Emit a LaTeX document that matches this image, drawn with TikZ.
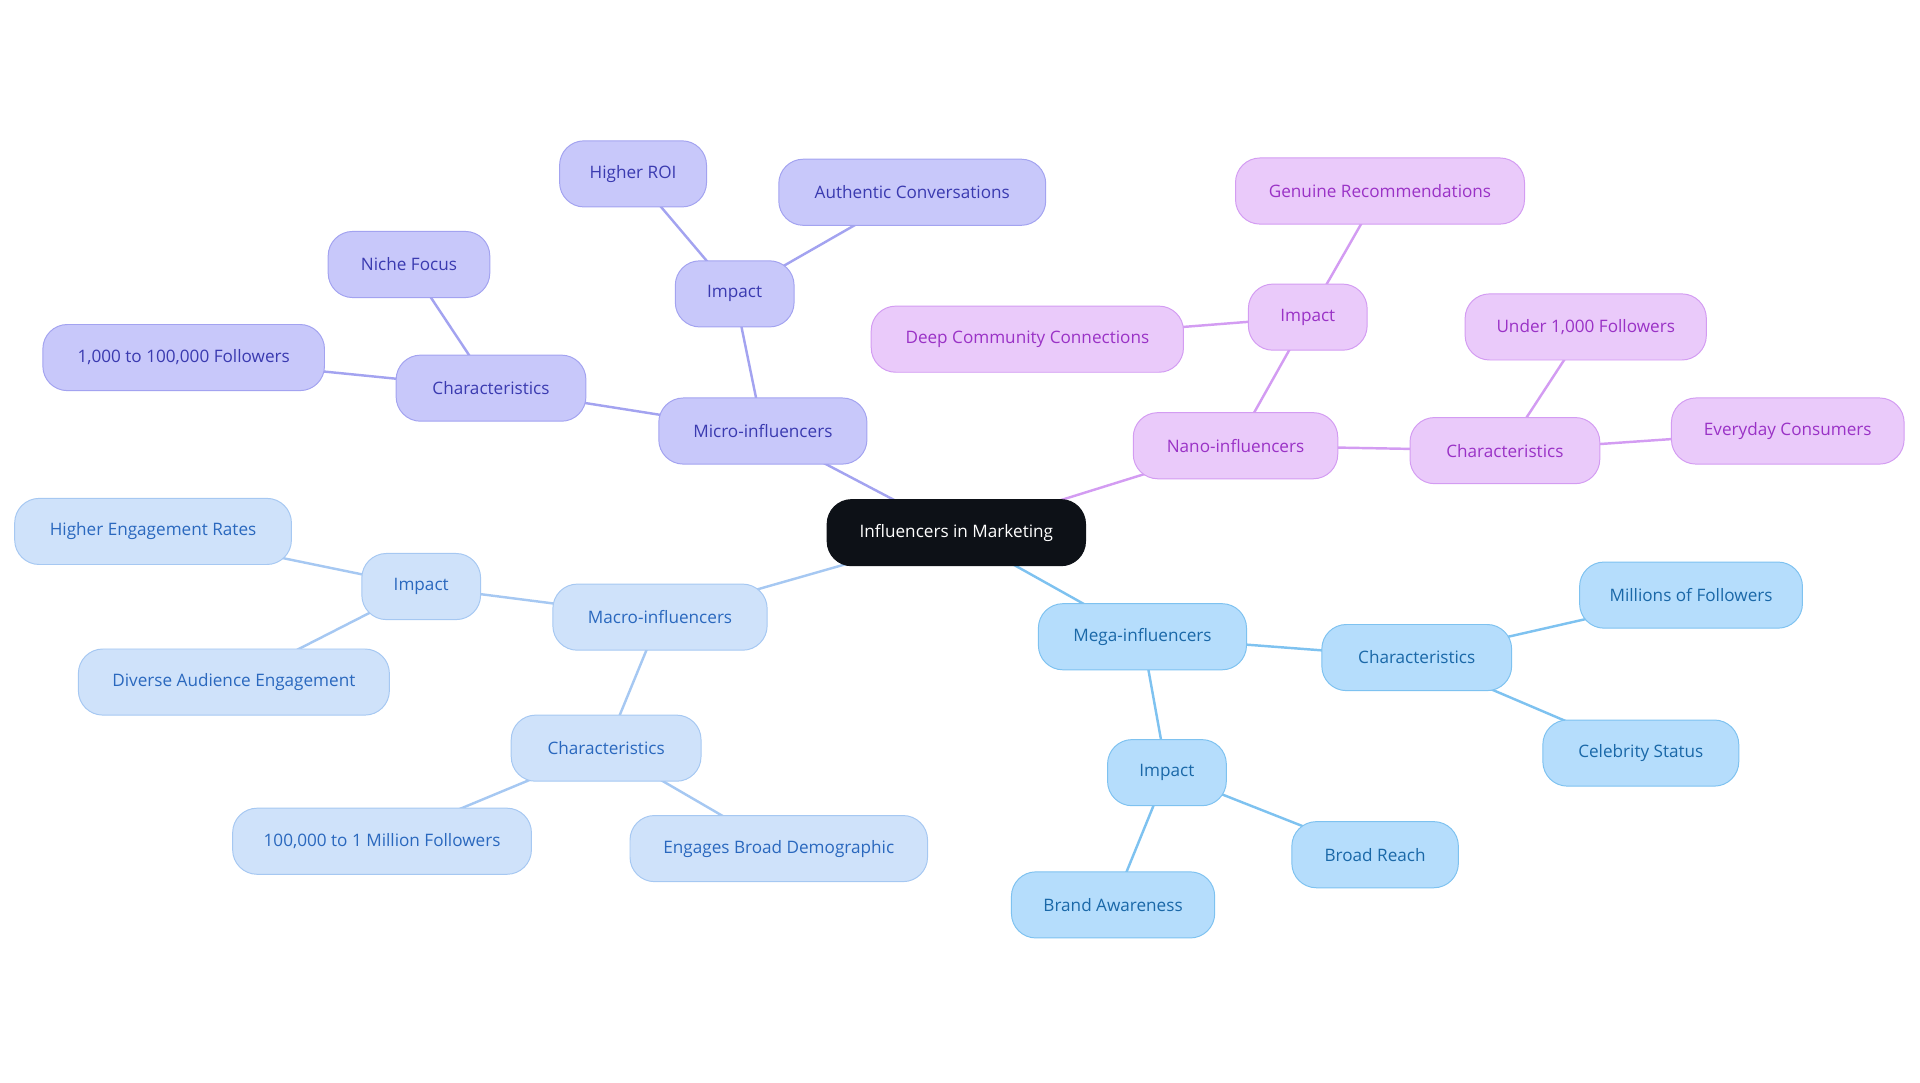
\documentclass[tikz,border=0pt]{standalone}
\usepackage{fontspec}
\setmainfont{Open Sans}
\usetikzlibrary{backgrounds}
\definecolor{cfill}{HTML}{0D1117}
\definecolor{mifill}{HTML}{C8C8FA}\definecolor{midraw}{HTML}{A3A3F0}\definecolor{mitext}{HTML}{3A3AB0}
\definecolor{nafill}{HTML}{EACAFA}\definecolor{nadraw}{HTML}{D39CF2}\definecolor{natext}{HTML}{9A32C6}
\definecolor{mafill}{HTML}{CFE2FA}\definecolor{madraw}{HTML}{A6C8F2}\definecolor{matext}{HTML}{2A68BE}
\definecolor{mefill}{HTML}{B5DDFC}\definecolor{medraw}{HTML}{7EC2F0}\definecolor{metext}{HTML}{1A68A8}
\tikzset{
 box/.style={rounded corners=20pt,minimum height=54pt,inner sep=0pt,font=\fontsize{14}{17}\selectfont,line width=0.8pt},
 ctr/.style={box,fill=cfill,draw=cfill,text=white},
 mi/.style={box,fill=mifill,draw=midraw,text=mitext},
 na/.style={box,fill=nafill,draw=nadraw,text=natext},
 ma/.style={box,fill=mafill,draw=madraw,text=matext},
 me/.style={box,fill=mefill,draw=medraw,text=metext},
 lmi/.style={draw=midraw,line width=2pt},
 lna/.style={draw=nadraw,line width=2pt},
 lma/.style={draw=madraw,line width=2pt},
 lme/.style={draw=medraw,line width=2pt},
}
\begin{document}
\begin{tikzpicture}[x=1pt,y=-1pt]
\useasboundingbox (0,0) rectangle (1568,884);
\node[ctr,minimum width=211pt] (c) at (781,435) {Influencers in Marketing};
\node[mi,minimum width=170pt] (mi) at (623,352) {Micro-influencers};
\node[mi,minimum width=155pt] (mic) at (401,317) {Characteristics};
\node[mi,minimum width=132pt] (mic1) at (334,216) {Niche Focus};
\node[mi,minimum width=230pt] (mic2) at (150,292) {1,000 to 100,000 Followers};
\node[mi,minimum width=97pt] (mii) at (600,240) {Impact};
\node[mi,minimum width=120pt] (mii1) at (517,142) {Higher ROI};
\node[mi,minimum width=218pt] (mii2) at (745,157) {Authentic Conversations};
\node[na,minimum width=167pt] (na) at (1009,364) {Nano-influencers};
\node[na,minimum width=97pt] (nai) at (1068,259) {Impact};
\node[na,minimum width=236pt] (nai1) at (1127,156) {Genuine Recommendations};
\node[na,minimum width=255pt] (nai2) at (839,277) {Deep Community Connections};
\node[na,minimum width=155pt] (nac) at (1229,368) {Characteristics};
\node[na,minimum width=197pt] (nac1) at (1295,267) {Under 1,000 Followers};
\node[na,minimum width=190pt] (nac2) at (1460,352) {Everyday Consumers};
\node[ma,minimum width=175pt] (ma) at (539,504) {Macro-influencers};
\node[ma,minimum width=97pt] (mai) at (344,479) {Impact};
\node[ma,minimum width=226pt] (mai1) at (125,434) {Higher Engagement Rates};
\node[ma,minimum width=254pt] (mai2) at (191,557) {Diverse Audience Engagement};
\node[ma,minimum width=155pt] (mac) at (495,611) {Characteristics};
\node[ma,minimum width=244pt] (mac1) at (312,687) {100,000 to 1 Million Followers};
\node[ma,minimum width=243pt] (mac2) at (636,693) {Engages Broad Demographic};
\node[me,minimum width=170pt] (me) at (933,520) {Mega-influencers};
\node[me,minimum width=155pt] (mec) at (1157,537) {Characteristics};
\node[me,minimum width=182pt] (mec1) at (1381,486) {Millions of Followers};
\node[me,minimum width=160pt] (mec2) at (1340,615) {Celebrity Status};
\node[me,minimum width=97pt] (mei) at (953,631) {Impact};
\node[me,minimum width=136pt] (mei1) at (1123,698) {Broad Reach};
\node[me,minimum width=166pt] (mei2) at (909,739) {Brand Awareness};
\begin{pgfonlayer}{background}
\draw[lmi] (c.center)--(mi.center) (mi.center)--(mic.center) (mic.center)--(mic1.center) (mic.center)--(mic2.center)
 (mi.center)--(mii.center) (mii.center)--(mii1.center) (mii.center)--(mii2.center);
\draw[lna] (c.center)--(na.center) (na.center)--(nai.center) (nai.center)--(nai1.center) (nai.center)--(nai2.center)
 (na.center)--(nac.center) (nac.center)--(nac1.center) (nac.center)--(nac2.center);
\draw[lma] (c.center)--(ma.center) (ma.center)--(mai.center) (mai.center)--(mai1.center) (mai.center)--(mai2.center)
 (ma.center)--(mac.center) (mac.center)--(mac1.center) (mac.center)--(mac2.center);
\draw[lme] (c.center)--(me.center) (me.center)--(mec.center) (mec.center)--(mec1.center) (mec.center)--(mec2.center)
 (me.center)--(mei.center) (mei.center)--(mei1.center) (mei.center)--(mei2.center);
\end{pgfonlayer}
\end{tikzpicture}
\end{document}
